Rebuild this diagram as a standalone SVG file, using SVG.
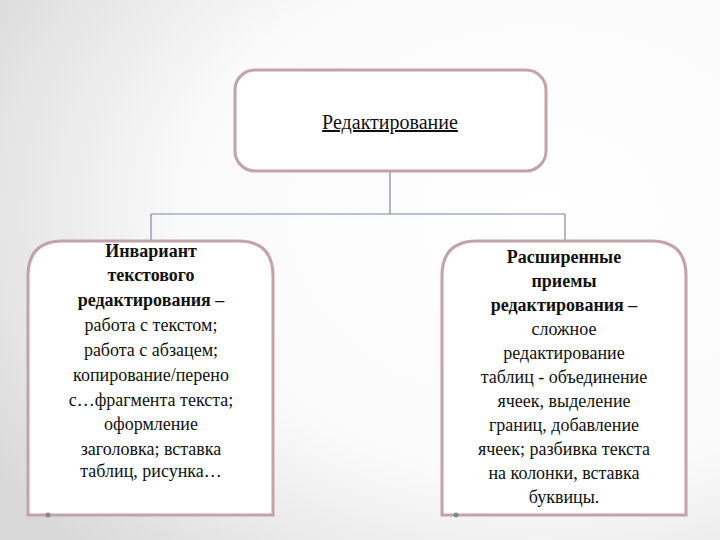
<svg xmlns="http://www.w3.org/2000/svg" width="720" height="540" viewBox="0 0 720 540">
<defs>
<radialGradient id="bg" cx="0.75" cy="0.4" r="0.9">
<stop offset="0" stop-color="#ffffff"/><stop offset="0.55" stop-color="#fafafa"/><stop offset="1" stop-color="#d8d8d8"/>
</radialGradient>
<style>
.box{fill:#ffffff;stroke:#c3a3aa;stroke-width:3}
.con{fill:none;stroke:#7a8aa8;stroke-width:1.2}
text{font-family:'Liberation Serif','DejaVu Serif',serif;font-size:18px;fill:#111;text-anchor:middle}
.b{font-weight:bold}
</style>
</defs>
<rect width="720" height="540" fill="url(#bg)"/>
<g id="connectors">
<path class="con" d="M390 171V214M151 214H565M151 214V241M565 214V241"/>
</g>
<g id="root">
<rect class="box" x="235" y="70" width="311" height="101" rx="20"/>
<text x="390" y="129" style="font-size:20px" text-decoration="underline">Редактирование</text>
</g>
<g id="left">
<path class="box" d="M28 515V276Q28 241 63 241H238Q273 241 273 276V515Z"/>
<circle cx="48" cy="515" r="2.5" fill="#888"/>
<text><tspan class="b" x="151" y="257">Инвариант</tspan><tspan class="b" x="151" y="281">текстового</tspan><tspan class="b" x="151" y="306">редактирования –</tspan><tspan x="151" y="331">работа с текстом;</tspan><tspan x="151" y="356">работа с абзацем;</tspan><tspan x="151" y="381">копирование/перено</tspan><tspan x="151" y="406">с…фрагмента текста;</tspan><tspan x="151" y="430">оформление</tspan><tspan x="151" y="455">заголовка; вставка</tspan><tspan x="151" y="477">таблиц, рисунка…</tspan></text>
</g>
<g id="right">
<path class="box" d="M442 515V276Q442 241 477 241H651Q686 241 686 276V515Z"/>
<circle cx="456" cy="515" r="2.5" fill="#888"/>
<text><tspan class="b" x="564" y="263">Расширенные</tspan><tspan class="b" x="564" y="287">приемы</tspan><tspan class="b" x="564" y="311">редактирования –</tspan><tspan x="564" y="335">сложное</tspan><tspan x="564" y="359">редактирование</tspan><tspan x="564" y="383">таблиц  - объединение</tspan><tspan x="564" y="407">ячеек, выделение</tspan><tspan x="564" y="431">границ, добавление</tspan><tspan x="564" y="455">ячеек; разбивка текста</tspan><tspan x="564" y="479">на колонки, вставка</tspan><tspan x="564" y="503">буквицы.</tspan></text>
</g>
</svg>
